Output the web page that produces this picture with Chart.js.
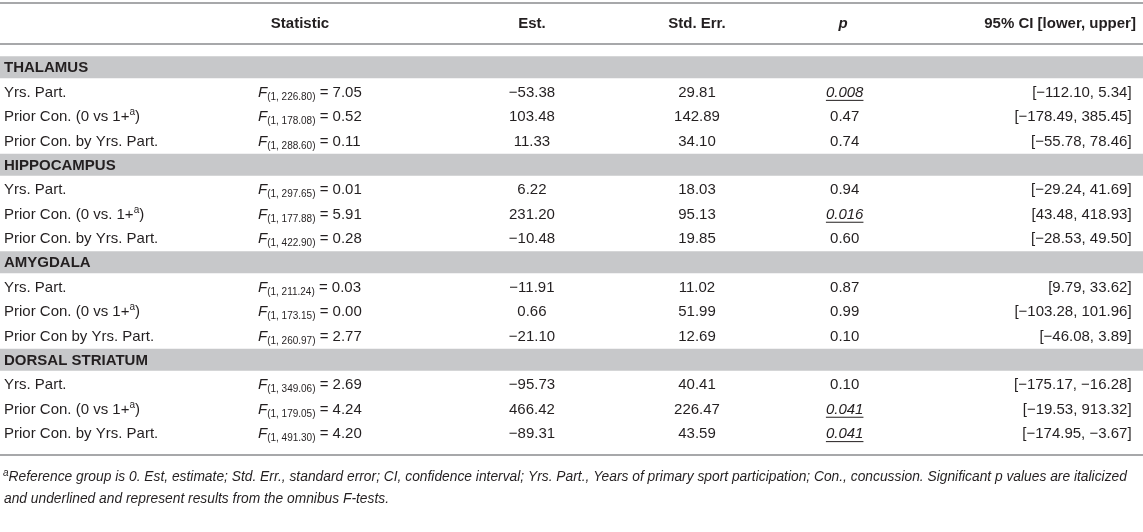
<!DOCTYPE html>
<html>
<head>
<meta charset="utf-8">
<script src="https://cdn.jsdelivr.net/npm/chart.js@4"></script>
<style>
  html, body { margin: 0; padding: 0; background: #fff; }
  #wrap { width: 1143px; height: 532px; position: relative; }
</style>
</head>
<body>
<div id="wrap"><canvas id="tabela"></canvas></div>
<script>
// table data
const sections = ["THALAMUS", "HIPPOCAMPUS", "AMYGDALA", "DORSAL STRIATUM"];
const effects = [
  ["Yrs. Part.", "Prior Con. (0 vs 1+", "Prior Con. by Yrs. Part."],
  ["Yrs. Part.", "Prior Con. (0 vs. 1+", "Prior Con. by Yrs. Part."],
  ["Yrs. Part.", "Prior Con. (0 vs 1+", "Prior Con by Yrs. Part."],
  ["Yrs. Part.", "Prior Con. (0 vs 1+", "Prior Con. by Yrs. Part."],
];
const headers = ["", "Statistic", "Est.", "Std. Err.", "p", "95% CI [lower, upper]"];
const dfDen = [226.80, 178.08, 288.60, 297.65, 177.88, 422.90, 211.24, 173.15, 260.97, 349.06, 179.05, 491.30];
const fValues = [7.05, 0.52, 0.11, 0.01, 5.91, 0.28, 0.03, 0.00, 2.77, 2.69, 4.24, 4.20];
const estimates = [-53.38, 103.48, 11.33, 6.22, 231.20, -10.48, -11.91, 0.66, -21.10, -95.73, 466.42, -89.31];
const stdErrors = [29.81, 142.89, 34.10, 18.03, 95.13, 19.85, 11.02, 51.99, 12.69, 40.41, 226.47, 43.59];
const pValues = ["0.008", "0.47", "0.74", "0.94", "0.016", "0.60", "0.87", "0.99", "0.10", "0.10", "0.041", "0.041"];
const ciLower = [-112.10, -178.49, -55.78, -29.24, 43.48, -28.53, 9.79, -103.28, -46.08, -175.17, -19.53, -174.95];
const ciUpper = [5.34, 385.45, 78.46, 41.69, 418.93, 49.50, 33.62, 101.96, 3.89, -16.28, 913.32, -3.67];
const footnote = [
  "Reference group is 0. Est, estimate; Std. Err., standard error; CI, confidence interval; Yrs. Part., Years of primary sport participation; Con., concussion. Significant p values are italicized",
  "and underlined and represent results from the omnibus F-tests.",
];

// layout
const FONT = '"Liberation Sans", Arial, Helvetica, sans-serif';
const TAM = 15;
const TAM_NOTA = 13.8;
const COR_TEXTO = "#231f20";
const COR_FAIXA = "#c7c8ca";
const COR_LINHA = "#a7a8aa";
// column anchors along the x scale (0..1) and alignment
const colunas = [
  { x: 0.0035, align: "left" },
  { x: 0.2257, align: "left" },
  { x: 0.4654, align: "center" },
  { x: 0.6098, align: "center" },
  { x: 0.7390, align: "center" },
  { x: 0.9900, align: "right" },
];
const cabecalhoX = [0.0035, 0.2625, 0.4654, 0.6098, 0.7375, 0.9938];

function num(v) {
  const s = Math.abs(v).toFixed(2);
  return v < 0 ? "\u2212" + s : s;
}

// build the row list: section header + 3 effects each
const linhas = [];
sections.forEach((sec, s) => {
  linhas.push({ tipo: "secao", nome: sec });
  effects[s].forEach((ef, e) => {
    linhas.push({ tipo: "efeito", nome: ef, i: s * 3 + e });
  });
});

function f(size, style, weight) {
  return (style || "normal") + " " + (weight || "normal") + " " + size + "px " + FONT;
}

function larguraSeg(ctx, segs) {
  let w = 0;
  segs.forEach((sg) => { ctx.font = sg.font; w += ctx.measureText(sg.t).width; });
  return w;
}
function desenhaSeg(ctx, segs, x, y, align) {
  const w = larguraSeg(ctx, segs);
  if (align === "center") x -= w / 2;
  else if (align === "right") x -= w;
  ctx.textAlign = "left";
  ctx.textBaseline = "alphabetic";
  segs.forEach((sg) => {
    ctx.font = sg.font;
    const lw = ctx.measureText(sg.t).width;
    ctx.fillText(sg.t, x, y + (sg.dy || 0));
    if (sg.sub) {
      ctx.fillRect(x, y + 3, lw, 1);
    }
    x += lw;
  });
}

const tabelaPlugin = {
  id: "tabela",
  afterDatasetsDraw(chart) {
    const ctx = chart.ctx;
    const xs = chart.scales.x;
    const ys = chart.scales.y;
    const area = chart.chartArea;
    const base = 5.3;
    ctx.save();

    // rules
    ctx.fillStyle = COR_LINHA;
    ctx.fillRect(0, area.top - 53, chart.width, 2);
    ctx.fillRect(0, area.top - 12, chart.width, 2);
    ctx.fillRect(0, area.bottom + 9, chart.width, 2);
    ctx.fillStyle = COR_TEXTO;

    // header row
    const yh = area.top - 32.5 + base;
    headers.forEach((h, c) => {
      if (!h) return;
      const seg = [{ t: h, font: f(TAM, c === 4 ? "italic" : "normal", "bold") }];
      desenhaSeg(ctx, seg, xs.getPixelForValue(cabecalhoX[c]), yh, c === 0 ? "left" : c === 5 ? "right" : "center");
    });

    linhas.forEach((ln, r) => {
      const y = ys.getPixelForValue(r) + base;
      const px = (c) => xs.getPixelForValue(colunas[c].x);
      if (ln.tipo === "secao") {
        desenhaSeg(ctx, [{ t: ln.nome, font: f(TAM, "normal", "bold") }], px(0), y, "left");
        return;
      }
      const i = ln.i;
      const rot = [{ t: ln.nome, font: f(TAM) }];
      if (ln.nome.endsWith("+")) {
        rot.push({ t: "a", font: f(10), dy: -6 });
        rot.push({ t: ")", font: f(TAM) });
      }
      desenhaSeg(ctx, rot, px(0), y, "left");
      desenhaSeg(ctx, [
        { t: "F", font: f(TAM, "italic") },
        { t: "(1, " + dfDen[i].toFixed(2) + ")", font: f(10), dy: 3 },
        { t: " = " + fValues[i].toFixed(2), font: f(TAM) },
      ], px(1), y, "left");
      desenhaSeg(ctx, [{ t: num(estimates[i]), font: f(TAM) }], px(2), y, "center");
      desenhaSeg(ctx, [{ t: num(stdErrors[i]), font: f(TAM) }], px(3), y, "center");
      const sig = parseFloat(pValues[i]) < 0.05;
      desenhaSeg(ctx, [{ t: pValues[i], font: f(TAM, sig ? "italic" : "normal"), sub: sig }], px(4), y, "center");
      desenhaSeg(ctx, [{ t: "[" + num(ciLower[i]) + ", " + num(ciUpper[i]) + "]", font: f(TAM) }], px(5), y, "right");
    });

    // footnote
    const yf1 = area.bottom + 31 + 5;
    const xf = xs.getPixelForValue(colunas[0].x) - 1;
    desenhaSeg(ctx, [
      { t: "a", font: f(10, "italic"), dy: -5 },
      { t: footnote[0], font: f(TAM_NOTA, "italic") },
    ], xf, yf1, "left");
    desenhaSeg(ctx, [{ t: footnote[1], font: f(TAM_NOTA, "italic") }], xf + 1, yf1 + 22, "left");
    ctx.restore();
  },
};

const faixas = linhas.map((ln) => (ln.tipo === "secao" ? [0, 1] : null));

new Chart(document.getElementById("tabela"), {
  type: "bar",
  data: {
    labels: linhas.map((ln, r) => r),
    datasets: [{
      data: faixas,
      backgroundColor: COR_FAIXA,
      borderWidth: 0,
      barPercentage: 0.9,
      categoryPercentage: 1,
    }],
  },
  options: {
    indexAxis: "y",
    responsive: true,
    maintainAspectRatio: false,
    animation: false,
    layout: { padding: { top: 55, bottom: 87, left: 0, right: 0 } },
    plugins: { legend: { display: false }, tooltip: { enabled: false } },
    scales: {
      x: { type: "linear", min: 0, max: 1, display: false },
      y: { type: "category", display: false, offset: true },
    },
  },
  plugins: [tabelaPlugin],
});
</script>
</body>
</html>
